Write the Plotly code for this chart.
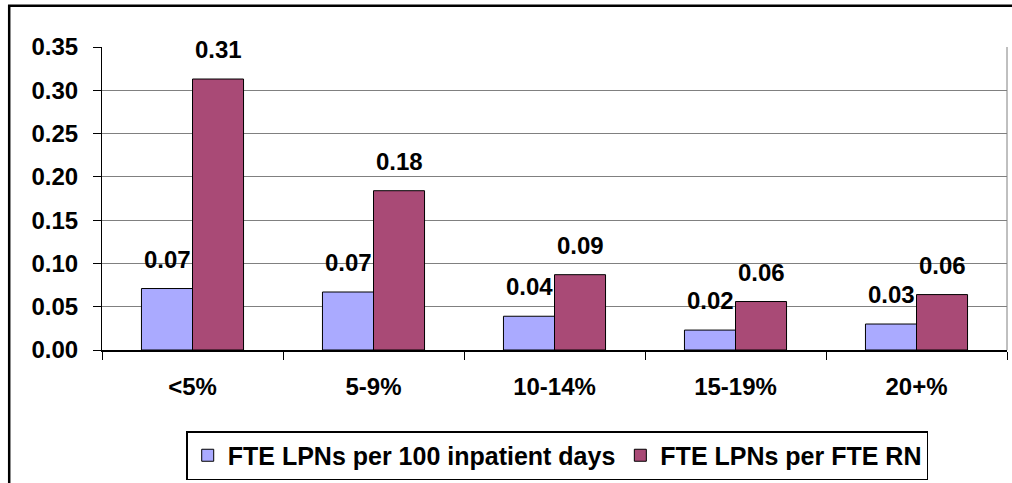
import plotly.graph_objects as go

categories = ["<5%", "5-9%", "10-14%", "15-19%", "20+%"]
lpn_per_100_days = [0.071, 0.067, 0.039, 0.023, 0.030]
lpn_per_rn = [0.313, 0.184, 0.087, 0.056, 0.064]
series_names = ["FTE LPNs per 100 inpatient days", "FTE LPNs per FTE RN"]
y_ticks = [0.00, 0.05, 0.10, 0.15, 0.20, 0.25, 0.30, 0.35]

FONT = "Liberation Sans, Arial, sans-serif"
BLUE = "#AAAAFF"
RED = "#A94A76"

fig = go.Figure()
fig.add_trace(go.Bar(x=categories, y=lpn_per_100_days, name=series_names[0],
                     marker=dict(color=BLUE, line=dict(color="black", width=1))))
fig.add_trace(go.Bar(x=categories, y=lpn_per_rn, name=series_names[1],
                     marker=dict(color=RED, line=dict(color="black", width=1))))

# data labels above each bar
for vals, shift in ((lpn_per_100_days, -25.5), (lpn_per_rn, 25.5)):
    for c, v in zip(categories, vals):
        fig.add_annotation(x=c, y=v, text=f"{v:.2f}", showarrow=False,
                           xshift=shift, yshift=14, yanchor="bottom",
                           font=dict(family=FONT, size=24, color="black", weight="bold"))

W, H = 1012, 483
L, R, T, B = 102, 5, 47, 133
pw, ph = W - L - R, H - T - B

def px_x(p):
    return (p - L) / pw

def px_y(p):
    return (H - B - p) / ph

# outer chart border
fig.add_shape(type="rect", xref="paper", yref="paper",
              x0=px_x(9.2), x1=px_x(1020), y0=px_y(495), y1=px_y(5.7),
              line=dict(color="black", width=2.5), layer="above")
# right plot-area border
fig.add_shape(type="line", xref="paper", yref="paper", x0=1, x1=1, y0=0, y1=1,
              line=dict(color="#808080", width=1))

fig.update_layout(
    width=W, height=H, autosize=False,
    margin=dict(l=L, r=R, t=T, b=B, autoexpand=False),
    paper_bgcolor="white", plot_bgcolor="white",
    barmode="group", bargap=0.436, bargroupgap=0,
    font=dict(family=FONT, size=24, color="black", weight="bold"),
    showlegend=True,
    legend=dict(orientation="h", x=0.503, xanchor="center",
                yref="container", y=1 - 431 / H, yanchor="top",
                bordercolor="black", borderwidth=1.5, bgcolor="white",
                font=dict(family=FONT, size=25, color="black", weight="bold"),
                itemwidth=30, tracegroupgap=0),
)
fig.update_xaxes(type="category", showline=True, linecolor="black", linewidth=1.5,
                 ticks="outside", tickson="boundaries", ticklen=8, tickcolor="black",
                 ticklabelstandoff=14, showgrid=False, zeroline=False, automargin=False)
fig.update_yaxes(range=[0, 0.35], tickvals=y_ticks, tickformat=".2f",
                 showline=True, linecolor="black", linewidth=1,
                 ticks="outside", ticklen=8, tickcolor="black",
                 ticklabelstandoff=10, automargin=False,
                 showgrid=True, gridcolor="#808080", gridwidth=1, zeroline=False)

fig.write_html(
    "out.html",
    config={"displayModeBar": False},
    post_script="document.body.style.margin='0';document.body.style.overflow='hidden';",
)
